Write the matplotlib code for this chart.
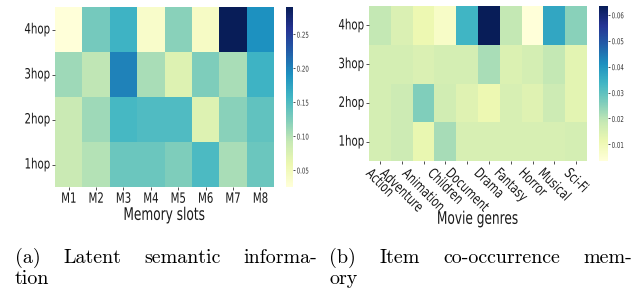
import matplotlib
matplotlib.use("Agg")
import matplotlib.pyplot as plt
import numpy as np
import seaborn as sns
from matplotlib import font_manager
from matplotlib.patheffects import AbstractPathEffect
from matplotlib.transforms import Affine2D

hops = ['4hop', '3hop', '2hop', '1hop']
slots = ['M1', 'M2', 'M3', 'M4', 'M5', 'M6', 'M7', 'M8']
genres = ['Action', 'Adventure', 'Animation', 'Children', 'Document',
          'Drama', 'Fantasy', 'Horror', 'Musical', 'Sci-Fi']

latent_4hop = [0.025, 0.13, 0.16, 0.038, 0.12, 0.042, 0.29, 0.19]
latent_3hop = [0.11, 0.095, 0.20, 0.105, 0.072, 0.125, 0.105, 0.16]
latent_2hop = [0.089, 0.11, 0.155, 0.15, 0.15, 0.072, 0.12, 0.14]
latent_1hop = [0.089, 0.10, 0.135, 0.135, 0.125, 0.152, 0.105, 0.135]

genre_4hop = [0.019, 0.015, 0.011, 0.007, 0.0336, 0.0634, 0.019, 0.0036, 0.0366, 0.025]
genre_3hop = [0.016, 0.016, 0.015, 0.016, 0.016, 0.0216, 0.0148, 0.016, 0.019, 0.013]
genre_2hop = [0.016, 0.0175, 0.026, 0.0165, 0.014, 0.011, 0.0155, 0.014, 0.0175, 0.013]
genre_1hop = [0.016, 0.0175, 0.012, 0.022, 0.0155, 0.0155, 0.0155, 0.0155, 0.0155, 0.016]

latent_ticks = [0.05, 0.10, 0.15, 0.20, 0.25]
genre_ticks = [0.01, 0.02, 0.03, 0.04, 0.05, 0.06]

caption_a = [['(a)', 'Latent', 'semantic', 'informa-'], ['tion']]
caption_b = [['(b)', 'Item', 'co-occurrence', 'mem-'], ['ory']]

names = {f.name for f in font_manager.fontManager.ttflist}
sans = 'DejaVu Sans'
serif = 'cmr10' if 'cmr10' in names else 'DejaVu Serif'


class Squeeze(AbstractPathEffect):
    """Condense glyph outlines along the text direction, keeping the
    rendered text aligned like the unsqueezed layout box."""
    def __init__(self, sx, halign='center', valign='top'):
        super().__init__()
        self.sx = sx
        self.halign = halign
        self.valign = valign

    def draw_path(self, renderer, gc, tpath, affine, rgbFace=None):
        sq = Affine2D().scale(self.sx, 1) + affine
        b0 = tpath.get_extents(affine)
        b1 = tpath.get_extents(sq)
        if self.halign == 'left':
            dx = b0.x0 - b1.x0
        elif self.halign == 'right':
            dx = b0.x1 - b1.x1
        else:
            dx = 0.5 * (b0.x0 + b0.x1) - 0.5 * (b1.x0 + b1.x1)
        if self.valign == 'top':
            dy = b0.y1 - b1.y1
        else:
            dy = 0.5 * (b0.y0 + b0.y1) - 0.5 * (b1.y0 + b1.y1)
        t = sq + Affine2D().translate(dx, dy)
        renderer.draw_path(gc, tpath, t, rgbFace)


W, H = 634, 289
fig = plt.figure(figsize=(W / 100, H / 100), dpi=100)

def box(x0, y0, x1, y1):
    return [x0 / W, 1 - y1 / H, (x1 - x0) / W, (y1 - y0) / H]

ax1 = fig.add_axes(box(55, 7, 274, 187))
cax1 = fig.add_axes(box(286, 7, 293, 187))
ax2 = fig.add_axes(box(369, 6, 587, 161))
cax2 = fig.add_axes(box(599, 6, 608, 161))

m1 = np.array([latent_4hop, latent_3hop, latent_2hop, latent_1hop])
m2 = np.array([genre_4hop, genre_3hop, genre_2hop, genre_1hop])

sns.heatmap(m1, ax=ax1, cbar_ax=cax1, cmap='YlGnBu', xticklabels=slots, yticklabels=hops,
            cbar_kws={'ticks': latent_ticks})
sns.heatmap(m2, ax=ax2, cbar_ax=cax2, cmap='YlGnBu', xticklabels=genres, yticklabels=hops,
            cbar_kws={'ticks': genre_ticks})

tfs = 10.2
SX = 0.72
for ax in (ax1, ax2):
    ax.tick_params(axis='both', length=2.2, width=0.6, pad=1.2, colors='#333333',
                   labelcolor='#1a1a1a')
    for lab in ax.get_yticklabels():
        lab.set_fontfamily(sans); lab.set_fontsize(tfs); lab.set_rotation(0)
        lab.set_path_effects([Squeeze(SX, 'right', 'center')])
for lab in ax1.get_xticklabels():
    lab.set_fontfamily(sans); lab.set_fontsize(tfs); lab.set_rotation(0)
    lab.set_path_effects([Squeeze(SX, 'center', 'top')])
for lab in ax2.get_xticklabels():
    lab.set_fontfamily(sans); lab.set_fontsize(10.2); lab.set_rotation(-45)
    lab.set_ha('center')
    lab.set_path_effects([Squeeze(0.74, 'center', 'top')])

xl1 = ax1.set_xlabel('Memory slots', fontfamily=sans, fontsize=12.5, color='#1a1a1a')
xl2 = ax2.set_xlabel('Movie genres', fontfamily=sans, fontsize=12.5, color='#1a1a1a')
ax1.xaxis.set_label_coords(0.5, -0.105)
ax2.xaxis.set_label_coords(0.5, -0.315)
xl1.set_path_effects([Squeeze(0.7, 'center', 'top')])
xl2.set_path_effects([Squeeze(0.7, 'center', 'top')])

for cax in (cax1, cax2):
    cax.tick_params(length=1.5, width=0.6, pad=1, colors='#333333')
    cax.yaxis.set_ticklabels(['{:.2f}'.format(t) for t in cax.get_yticks()])
    for lab in cax.get_yticklabels():
        lab.set_fontfamily(sans); lab.set_fontsize(5.8); lab.set_color('#333333')
        lab.set_path_effects([Squeeze(0.68, 'left', 'center')])

# justified captions
cap_fs = 14.4
renderer = fig.canvas.get_renderer()

def justified(lines, x0, x1, baselines):
    for li, (words, yb) in enumerate(zip(lines, baselines)):
        texts = [fig.text(0, 1 - yb / H, w, fontfamily=serif, fontsize=cap_fs,
                          ha='left', va='baseline') for w in words]
        widths = [t.get_window_extent(renderer).width for t in texts]
        last = li == len(lines) - 1
        if len(words) > 1 and not last:
            gap = (x1 - x0 - sum(widths)) / (len(words) - 1)
        else:
            gap = 5.0
        x = x0
        for t, w in zip(texts, widths):
            t.set_x(x / W)
            x += w + gap

justified(caption_a, 15, 317, [263, 284])
justified(caption_b, 329, 632, [263, 284])

fig.savefig('out.png', dpi=100)
